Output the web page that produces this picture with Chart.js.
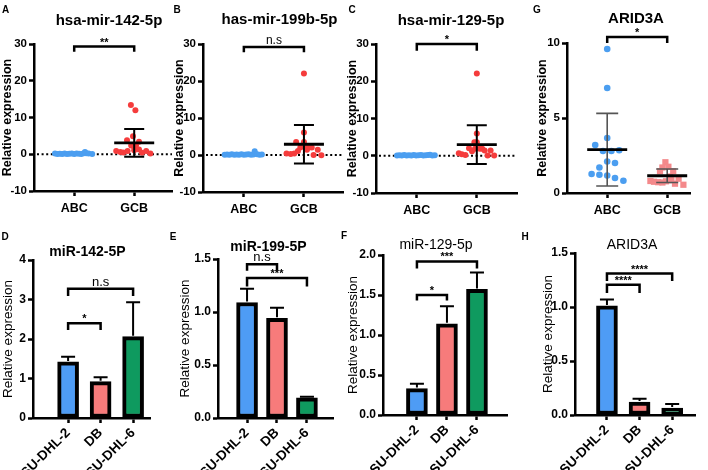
<!DOCTYPE html>
<html><head><meta charset="utf-8">
<script src="https://cdn.jsdelivr.net/npm/chart.js@4.4.1/dist/chart.umd.min.js"></script>
<style>
html,body{margin:0;padding:0;background:#fff;}
#wrap{position:relative;width:708px;height:470px;overflow:hidden;background:#fff;}
canvas{position:absolute;}
</style></head><body><div id="wrap"></div>
<script>
const FONT = "'Liberation Sans', Arial, Helvetica, sans-serif";
Chart.defaults.font.family = FONT;
Chart.defaults.color = '#000';

// ---------------- categories ----------------
const groups = ['ABC', 'GCB'];
const cellLines = ['SU-DHL-2', 'DB', 'SU-DHL-6'];

// ---------------- Panel A : hsa-mir-142-5p ----------------
const aAbcValues = [0.2,0.1,0.15,0.1,0.2,0.1,0.15,0.2,0.1,0.2,0.15,0.1,0.25,0.3,0.6,0.2,0.1];
const aAbcJitter = [-0.32,-0.28,-0.24,-0.2,-0.16,-0.12,-0.08,-0.04,0,0.04,0.08,0.12,0.16,0.2,0.18,0.24,0.3];
const aGcbValues = [13.4,12.0,4.9,3.8,3.4,2.4,2.4,2.0,0.9,0.6,0.5,0.9,1.1,1.3,0.4,0.9,0.2];
const aGcbJitter = [-0.055,0.02,-0.02,-0.12,0.08,-0.05,0.03,0,-0.3,-0.23,-0.18,-0.11,0,0.08,0.13,0.2,0.27];
const aMean = [null, 3.1];
const aSd = [null, 3.8];
const aBrackets = [{from:1, to:2, level:29.3, drop:1.4, label:'**'}];

// ---------------- Panel B : has-mir-199b-5p ----------------
const bAbcValues = [0.1,0.15,0.1,0.2,0.1,0.15,0.1,0.2,0.1,0.15,0.2,0.1,0.15,1.0,0.2,0.1,0.15];
const bAbcJitter = [-0.32,-0.28,-0.24,-0.2,-0.16,-0.12,-0.08,-0.04,0,0.04,0.08,0.12,0.16,0.18,0.22,0.26,0.3];
const bGcbValues = [22.0,6.1,3.5,3.5,2.0,2.1,2.0,2.0,1.4,1.1,0.4,0.3,0.4,0.0,1.4,-0.1];
const bGcbJitter = [0,0,-0.13,0,-0.06,0.02,0.08,0.13,0.05,-0.1,-0.29,-0.22,-0.16,0.16,0.23,0.29];
const bMean = [null, 2.9];
const bSd = [null, 5.2];
const bBrackets = [{from:1, to:2, level:29.2, drop:1.4, label:'n.s'}];

// ---------------- Panel C : hsa-mir-129-5p ----------------
const cAbcValues = [0.1,0.15,0.1,0.2,0.1,0.15,0.1,0.2,0.1,0.15,0.2,0.1,0.15,0.2,0.25,0.1,0.15];
const cAbcJitter = [-0.33,-0.29,-0.25,-0.21,-0.17,-0.13,-0.09,-0.05,-0.01,0.03,0.07,0.11,0.15,0.19,0.22,0.26,0.3];
const cGcbValues = [22.1,6.0,3.6,3.6,2.0,1.9,1.9,1.9,1.2,1.4,0.7,0.4,0.2,1.4,0.1,0.1];
const cGcbJitter = [0,0,-0.04,0,-0.13,-0.03,0.05,0.09,-0.08,0.13,-0.3,-0.25,-0.19,0.23,0.18,0.29];
const cMean = [null, 3.0];
const cSd = [null, 5.2];
const cBrackets = [{from:1, to:2, level:30.0, drop:1.8, label:'*'}];

// ---------------- Panel G : ARID3A (patients) ----------------
const gAbcValues = [9.6,7.0,3.67,3.2,2.8,2.8,2.85,2.1,2.0,1.7,1.27,1.22,1.16,1.0,0.82];
const gAbcJitter = [0,0,0,-0.2,-0.07,0.07,0.2,0,0.13,-0.13,-0.26,-0.13,0,0.13,0.27];
const gGcbValues = [2.05,1.7,1.75,1.45,1.45,1.1,0.95,0.8,0.75,0.72,0.7,0.78,0.62,0.55,0.85];
const gGcbJitter = [-0.03,-0.08,0.02,-0.12,0.1,0.05,0.19,-0.28,-0.22,-0.15,-0.08,-0.02,0.13,0.27,0.07];
const gMean = [2.89, 1.15];
const gSd = [2.42, 0.45];
const gBrackets = [{from:1, to:2, level:10.4, drop:0.4, label:'*'}];

// ---------------- Panel D : miR-142-5P ----------------
const dValues = [1.42, 0.92, 2.06];
const dErrors = [0.13, 0.11, 0.87];
const dBrackets = [{from:0, to:1, level:2.4, drop:0.17, label:'*'}, {from:0, to:2, level:3.27, drop:0.18, label:'n.s'}];

// ---------------- Panel E : miR-199-5P ----------------
const eValues = [1.09, 0.94, 0.19];
const eErrors = [0.13, 0.10, 0.01];
const eBrackets = [{from:0, to:1, level:1.45, drop:0.06, label:'n.s'}, {from:0, to:2, level:1.32, drop:0.08, label:'***'}];

// ---------------- Panel F : miR-129-5p ----------------
const fValues = [0.33, 1.14, 1.57];
const fErrors = [0.06, 0.22, 0.21];
const fBrackets = [{from:0, to:1, level:1.5, drop:0.07, label:'*'}, {from:0, to:2, level:1.92, drop:0.09, label:'***'}];

// ---------------- Panel H : ARID3A (cell lines) ----------------
const hValues = [1.01, 0.12, 0.065];
const hErrors = [0.06, 0.03, 0.037];
const hBrackets = [{from:0, to:1, level:1.206, drop:0.076, label:'****'}, {from:0, to:2, level:1.31, drop:0.07, label:'****'}];

// ================= drawing helpers =================
const wrap = document.getElementById('wrap');
function makeCanvas(box){
  const c = document.createElement('canvas');
  const w = box.right - box.left, h = box.bottom - box.top;
  c.width = w; c.height = h;
  c.style.left = box.left + 'px'; c.style.top = box.top + 'px';
  c.style.width = w + 'px'; c.style.height = h + 'px';
  wrap.appendChild(c);
  return c;
}
const pts = (cat, values, jitter) => values.map((v, i) => ({x: cat + jitter[i], y: v}));

function drawBrackets(chart, items, fonts){
  const {ctx, scales:{x, y}} = chart;
  ctx.save();
  ctx.strokeStyle = '#000'; ctx.fillStyle = '#000'; ctx.lineWidth = 2.5; ctx.lineJoin = 'miter';
  for (const b of items){
    const x1 = x.getPixelForValue(b.from), x2 = x.getPixelForValue(b.to);
    const yl = y.getPixelForValue(b.level), yd = y.getPixelForValue(b.level - b.drop);
    ctx.beginPath(); ctx.moveTo(x1, yd); ctx.lineTo(x1, yl); ctx.lineTo(x2, yl); ctx.lineTo(x2, yd); ctx.stroke();
    const isNs = b.label === 'n.s';
    ctx.font = isNs ? fonts.ns : fonts.star;
    ctx.textAlign = 'center'; ctx.textBaseline = 'alphabetic';
    ctx.fillText(b.label, (x1 + x2) / 2, yl - (isNs ? 3 : 1));
  }
  ctx.restore();
}
function drawTexts(chart, p){
  const ctx = chart.ctx;
  ctx.save(); ctx.fillStyle = '#000'; ctx.textAlign = 'center'; ctx.textBaseline = 'middle';
  ctx.font = `bold 10px ${FONT}`;
  ctx.fillText(p.letter, p.letterPos[0] - p.box.left, p.letterPos[1] - p.box.top);
  ctx.font = p.titleFont;
  ctx.fillText(p.title, p.titlePos[0] - p.box.left, p.titlePos[1] - p.box.top);
  ctx.restore();
}
function axisCommon(){
  return {
    border: {color: '#000', width: 2.5},
    grid: {drawOnChartArea: false, drawTicks: true, tickLength: 5, tickColor: '#000', tickWidth: 2.5, offset: false}
  };
}
function baseOptions(p){
  return {
    responsive: false, animation: false, devicePixelRatio: 1, events: [],
    layout: {padding: {left: 0, top: p.area.top - p.box.top, right: p.box.right - p.area.right, bottom: 0}},
    plugins: {legend: {display: false}, tooltip: {enabled: false}}
  };
}

function scatterPanel(p){
  const c = makeCanvas(p.box);
  const overlay = {
    id: 'overlay',
    beforeDatasetsDraw(chart){
      if (!p.zero) return;
      const {ctx, chartArea: a, scales: {y}} = chart;
      const py = y.getPixelForValue(0);
      ctx.save(); ctx.strokeStyle = '#000'; ctx.lineWidth = 2; ctx.setLineDash([2, 2.6]);
      ctx.beginPath(); ctx.moveTo(a.left + 3, py); ctx.lineTo(a.right, py); ctx.stroke(); ctx.restore();
    },
    afterDatasetsDraw(chart){
      const {ctx, scales: {x, y}} = chart;
      ctx.save();
      p.means.forEach((m, i) => {
        if (m === null) return;
        const cx = x.getPixelForValue(i + 1);
        const sd = p.sds[i];
        const yt = y.getPixelForValue(m + sd), yb = y.getPixelForValue(m - sd), ym = y.getPixelForValue(m);
        ctx.strokeStyle = p.errColor; ctx.lineWidth = p.errWidth;
        ctx.beginPath(); ctx.moveTo(cx, yt); ctx.lineTo(cx, yb);
        ctx.moveTo(cx - p.cap, yt); ctx.lineTo(cx + p.cap, yt);
        ctx.moveTo(cx - p.cap, yb); ctx.lineTo(cx + p.cap, yb); ctx.stroke();
        ctx.strokeStyle = '#000'; ctx.lineWidth = 2.8;
        ctx.beginPath(); ctx.moveTo(cx - p.half, ym); ctx.lineTo(cx + p.half, ym); ctx.stroke();
      });
      ctx.restore();
    },
    afterDraw(chart){
      drawBrackets(chart, p.brackets, {ns: `12px ${FONT}`, star: `bold 11px ${FONT}`});
      drawTexts(chart, p);
    }
  };
  const opts = baseOptions(p);
  opts.scales = {
    x: Object.assign(axisCommon(), {
      type: 'linear', offset: false, min: p.xMin, max: p.xMax,
      afterBuildTicks: s => { s.ticks = groups.map((g, i) => ({value: i + 1})); },
      afterFit: s => { s.height = p.box.bottom - p.area.bottom; },
      ticks: {callback: v => groups[Math.round(v) - 1], autoSkip: false, maxRotation: 0, minRotation: 0,
              font: {size: 12.5, weight: 'bold'}, padding: 5}
    }),
    y: Object.assign(axisCommon(), {
      min: p.yMin, max: p.yMax,
      afterFit: s => { s.width = p.area.left - p.box.left; },
      ticks: {stepSize: p.yStep, font: {size: 11.5, weight: 'bold'}, padding: 2},
      title: {display: true, text: 'Relative expression', font: {size: 12.5, weight: 'bold'}, padding: {top: p.yTitlePad, bottom: 0}}
    })
  };
  new Chart(c, {type: 'scatter', data: {datasets: p.datasets}, options: opts, plugins: [overlay]});
}

const BAR_COLORS = ['#4e9cf5', '#f77b7b', '#0f9a5f'];
function barPanel(p){
  const c = makeCanvas(p.box);
  const overlay = {
    id: 'overlay',
    afterDatasetsDraw(chart){
      const {ctx, scales: {x, y}} = chart;
      ctx.save(); ctx.strokeStyle = '#000'; ctx.lineWidth = 2;
      p.values.forEach((v, i) => {
        const cx = x.getPixelForValue(i);
        const y0 = y.getPixelForValue(v) - 1, y1 = y.getPixelForValue(v + p.errors[i]);
        ctx.beginPath(); ctx.moveTo(cx, y0); ctx.lineTo(cx, y1);
        ctx.moveTo(cx - 7, y1); ctx.lineTo(cx + 7, y1); ctx.stroke();
      });
      ctx.restore();
    },
    afterDraw(chart){
      drawBrackets(chart, p.brackets, {ns: `13px ${FONT}`, star: `bold 11px ${FONT}`});
      drawTexts(chart, p);
    }
  };
  const opts = baseOptions(p);
  opts.scales = {
    x: Object.assign(axisCommon(), {
      type: 'linear', offset: false, min: p.xMin, max: p.xMax,
      afterBuildTicks: s => { s.ticks = cellLines.map((g, i) => ({value: i})); },
      afterFit: s => { s.height = p.box.bottom - p.area.bottom; },
      ticks: {callback: v => cellLines[Math.round(v)], autoSkip: false, maxRotation: 45, minRotation: 45,
              font: {size: 13.5, weight: 'bold'}, padding: 2}
    }),
    y: Object.assign(axisCommon(), {
      min: 0, max: p.yMax,
      afterFit: s => { s.width = p.area.left - p.box.left; },
      ticks: {stepSize: p.yStep, font: {size: 12, weight: 'bold'}, padding: 2,
              callback: v => p.decimals ? Number(v).toFixed(p.decimals) : String(v)},
      title: {display: true, text: 'Relative expression', font: {size: 13.5, weight: 'normal'}, padding: {top: p.yTitlePad, bottom: 0}}
    })
  };
  const data = {datasets: [{
    data: p.values.map((v, i) => ({x: i, y: v})),
    backgroundColor: BAR_COLORS, borderColor: '#000', borderWidth: 4, borderSkipped: false, barThickness: 21
  }]};
  new Chart(c, {type: 'bar', data, options: opts, plugins: [overlay]});
}

const BLUE = '#4b9ef0', RED = '#f53c3c', PINK = '#f4898b';
function circleSet(data, color, r){ return {data, backgroundColor: color, borderWidth: 0, pointRadius: r, pointStyle: 'circle'}; }

// ---------- top row ----------
scatterPanel({
  box: {left: 0, top: 0, right: 178, bottom: 230}, area: {left: 34, top: 44, right: 172, bottom: 191},
  xMin: 0.33, xMax: 2.63, yMin: -10, yMax: 30, yStep: 10, zero: true, yTitlePad: 0,
  datasets: [circleSet(pts(1, aAbcValues, aAbcJitter), BLUE, 3), circleSet(pts(2, aGcbValues, aGcbJitter), RED, 3)],
  means: aMean, sds: aSd, half: 20, cap: 10, errColor: '#000', errWidth: 2, brackets: aBrackets,
  letter: 'A', letterPos: [5.5, 10], title: 'hsa-mir-142-5p', titlePos: [109, 21], titleFont: `bold 15px ${FONT}`
});
scatterPanel({
  box: {left: 170, top: 0, right: 348, bottom: 230}, area: {left: 203, top: 44, right: 343, bottom: 192},
  xMin: 0.32, xMax: 2.65, yMin: -10, yMax: 30, yStep: 10, zero: true, yTitlePad: 2,
  datasets: [circleSet(pts(1, bAbcValues, bAbcJitter), BLUE, 3), circleSet(pts(2, bGcbValues, bGcbJitter), RED, 3)],
  means: bMean, sds: bSd, half: 20, cap: 10, errColor: '#000', errWidth: 2, brackets: bBrackets,
  letter: 'B', letterPos: [177, 10], title: 'has-mir-199b-5p', titlePos: [279.5, 20], titleFont: `bold 15px ${FONT}`
});
scatterPanel({
  box: {left: 340, top: 0, right: 522, bottom: 230}, area: {left: 376, top: 44, right: 517, bottom: 193},
  xMin: 0.32, xMax: 2.67, yMin: -10, yMax: 30, yStep: 10, zero: true, yTitlePad: 5,
  datasets: [circleSet(pts(1, cAbcValues, cAbcJitter), BLUE, 3), circleSet(pts(2, cGcbValues, cGcbJitter), RED, 3)],
  means: cMean, sds: cSd, half: 20, cap: 10, errColor: '#000', errWidth: 2, brackets: cBrackets,
  letter: 'C', letterPos: [352, 10], title: 'hsa-mir-129-5p', titlePos: [451, 21], titleFont: `bold 15px ${FONT}`
});
scatterPanel({
  box: {left: 520, top: 0, right: 708, bottom: 230}, area: {left: 567, top: 43, right: 690, bottom: 193},
  xMin: 0.33, xMax: 2.38, yMin: 0, yMax: 10, yStep: 5, zero: false, yTitlePad: 15,
  datasets: [circleSet(pts(1, gAbcValues, gAbcJitter), BLUE, 3.3),
             {data: pts(2, gGcbValues, gGcbJitter), backgroundColor: PINK, borderWidth: 0, pointRadius: 4.4, pointStyle: 'rect'}],
  means: gMean, sds: gSd, half: 20, cap: 11, errColor: '#555', errWidth: 1.6, brackets: gBrackets,
  letter: 'G', letterPos: [537, 10], title: 'ARID3A', titlePos: [636, 18.5], titleFont: `bold 15px ${FONT}`
});

// ---------- bottom row ----------
barPanel({
  box: {left: 0, top: 230, right: 172, bottom: 470}, area: {left: 33, top: 260, right: 150, bottom: 418},
  xMin: -1.08, xMax: 2.52, yMax: 4, yStep: 1, decimals: 0, yTitlePad: 0,
  values: dValues, errors: dErrors, brackets: dBrackets,
  letter: 'D', letterPos: [5, 237], title: 'miR-142-5P', titlePos: [87.5, 252], titleFont: `bold 14px ${FONT}`
});
barPanel({
  box: {left: 170, top: 230, right: 342, bottom: 470}, area: {left: 218, top: 259, right: 333, bottom: 418},
  xMin: -0.97, xMax: 2.87, yMax: 1.5, yStep: 0.5, decimals: 1, yTitlePad: 7,
  values: eValues, errors: eErrors, brackets: eBrackets,
  letter: 'E', letterPos: [173, 237], title: 'miR-199-5P', titlePos: [268.5, 247], titleFont: `bold 14px ${FONT}`
});
barPanel({
  box: {left: 340, top: 230, right: 522, bottom: 470}, area: {left: 383, top: 255, right: 507, bottom: 415},
  xMin: -1.13, xMax: 3.0, yMax: 2, yStep: 0.5, decimals: 1, yTitlePad: 5,
  values: fValues, errors: fErrors, brackets: fBrackets,
  letter: 'F', letterPos: [344, 236], title: 'miR-129-5p', titlePos: [436, 245], titleFont: `14px ${FONT}`
});
barPanel({
  box: {left: 520, top: 230, right: 708, bottom: 470}, area: {left: 575, top: 253, right: 695, bottom: 415},
  xMin: -0.98, xMax: 2.7, yMax: 1.5, yStep: 0.5, decimals: 1, yTitlePad: 20,
  values: hValues, errors: hErrors, brackets: hBrackets,
  letter: 'H', letterPos: [525, 237], title: 'ARID3A', titlePos: [632, 245], titleFont: `14px ${FONT}`
});
</script>
</body></html>
